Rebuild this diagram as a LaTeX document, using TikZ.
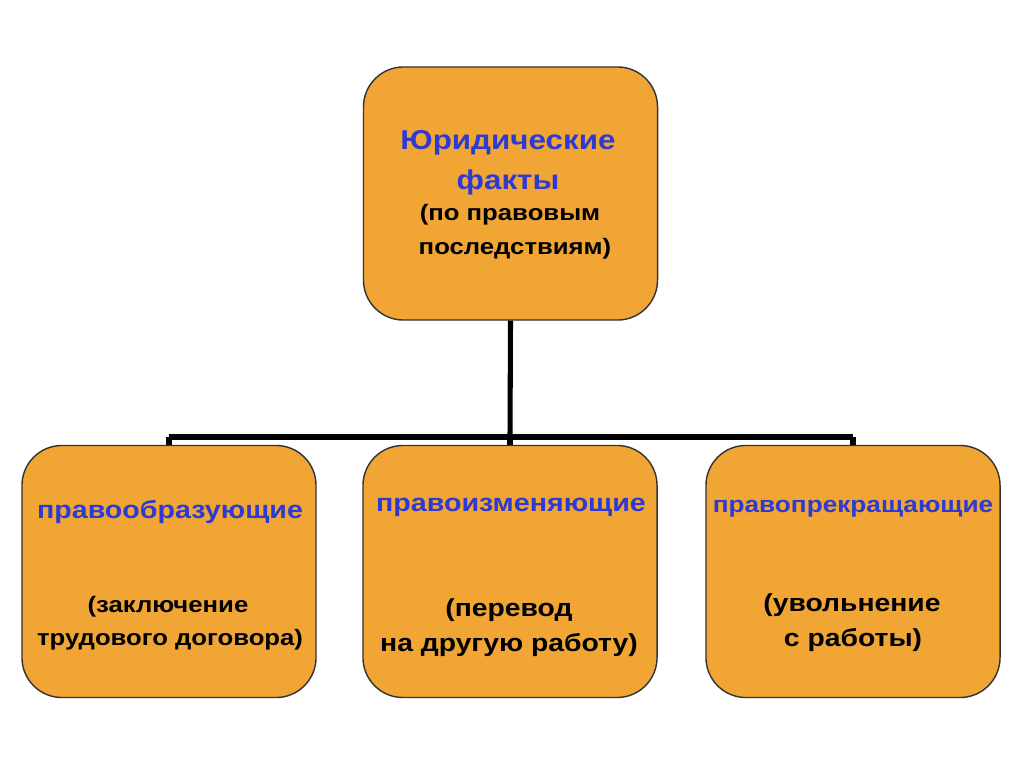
\documentclass[tikz,border=0pt]{standalone}
\usepackage{fontspec}
\setmainfont{Liberation Sans}
\newfontfamily\wide[FakeStretch=1.15]{Liberation Sans}
\definecolor{boxfill}{HTML}{F0A535}
\definecolor{titleblue}{HTML}{2E3BD0}
\newcommand{\fs}[1]{\fontsize{#1}{#1}\selectfont}
\begin{document}
\begin{tikzpicture}[x=0.025cm,y=-0.025cm,
  box/.style={draw=black!80, line width=1pt, fill=boxfill, rounded corners=1cm,
    minimum width=7.35cm, minimum height=6.3cm, inner sep=0pt},
  title/.style={text=titleblue, font=\wide\bfseries, inner sep=0pt},
  sub/.style={text=black, font=\wide\bfseries, inner sep=0pt},
  conn/.style={line width=3.6pt, black}]
\useasboundingbox[fill=white] (0,0) rectangle (1024,767);
\node[box, minimum height=6.325cm] (top) at (510.5,193.5) {};
\node[box] (left) at (169,571.5) {};
\node[box] (mid) at (510,571.5) {};
\node[box] (right) at (853,571.5) {};
\coordinate (j) at (510,437);
\coordinate (jl) at (169,437);
\coordinate (jr) at (853,437);
\draw[conn] (top.south) -- (j);
\draw[conn] (jl) -- (jr);
\draw[conn] (jl) -- (left.north);
\draw[conn] (j) -- (mid.north);
\draw[conn] (jr) -- (right.north);
\node[title] (t1) at (508,143) {\fs{19.4}Юридические};
\node[title] (t2) at (508,182) {\fs{19.4}факты};
\node[sub] (t3) at (510,215) {\fs{15.9}(по правовым};
\node[sub] (t4) at (515,249) {\fs{15.9}последствиям)};
\node[title] (l1) at (170,512) {\fs{17.7}правообразующие};
\node[sub] (l2) at (168,607) {\fs{15.9}(заключение};
\node[sub] (l3) at (170,640) {\fs{15.9}трудового договора)};
\node[title] (m1) at (511,507) {\fs{17.7}правоизменяющие};
\node[sub] (m2) at (509,610) {\fs{17.5}(перевод};
\node[sub] (m3) at (509,645) {\fs{17.5}на другую работу)};
\node[title] (r1) at (853,509) {\fs{16.2}правопрекращающие};
\node[sub] (r2) at (852,605) {\fs{17.5}(увольнение};
\node[sub] (r3) at (853,640) {\fs{17.5}с работы)};
\end{tikzpicture}
\end{document}
